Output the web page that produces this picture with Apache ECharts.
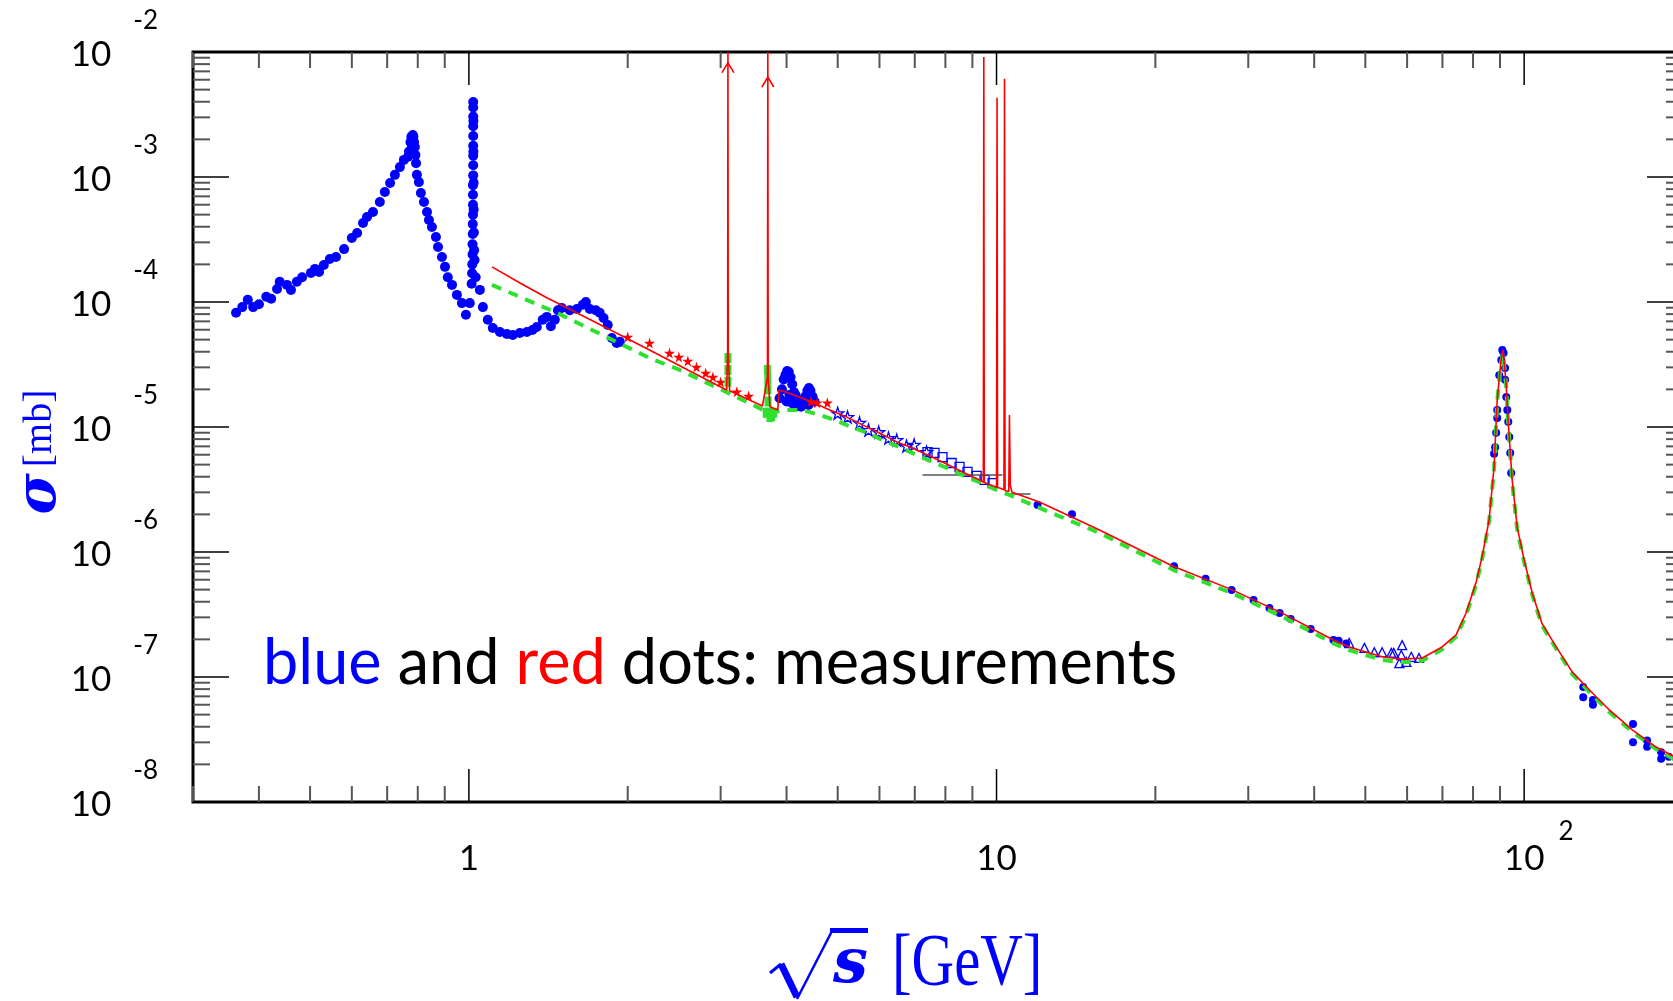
<!DOCTYPE html>
<html>
<head>
<meta charset="utf-8">
<script src="https://cdn.jsdelivr.net/npm/echarts@6/dist/echarts.min.js"></script>
<style>
html, body { margin: 0; padding: 0; background: #fff; }
#main { width: 1673px; height: 1001px; }
</style>
</head>
<body>
<div id="main"></div>
<script>
// sqrt(s) in GeV, sigma in mb

// low energy blue measurements (rho / omega / phi region and above)
const blueDotsLow = [
  [0.362, 8.2e-5], [0.372, 9.1e-5], [0.381, 1.04e-4], [0.390, 9.1e-5], [0.400, 9.6e-5],
  [0.413, 1.10e-4], [0.422, 1.06e-4], [0.433, 1.27e-4], [0.438, 1.45e-4], [0.452, 1.37e-4],
  [0.460, 1.25e-4], [0.472, 1.45e-4], [0.483, 1.58e-4], [0.502, 1.71e-4], [0.511, 1.84e-4],
  [0.520, 1.74e-4], [0.531, 1.98e-4], [0.545, 2.21e-4], [0.560, 2.29e-4], [0.580, 2.65e-4],
  [0.600, 3.25e-4], [0.614, 3.56e-4], [0.630, 4.29e-4], [0.641, 4.79e-4], [0.658, 5.25e-4],
  [0.678, 6.31e-4], [0.693, 7.59e-4], [0.709, 8.95e-4], [0.724, 1.04e-3], [0.740, 1.20e-3],
  [0.753, 1.37e-3], [0.767, 1.45e-3], [0.770, 1.6e-3], [0.775, 1.9e-3], [0.778, 2.1e-3],
  [0.780, 1.74e-3], [0.783, 2.17e-3], [0.785, 2.1e-3], [0.787, 1.9e-3], [0.790, 1.74e-3],
  [0.792, 1.5e-3], [0.794, 1.29e-3], [0.797, 1.04e-3], [0.804, 9.1e-4], [0.811, 7.45e-4],
  [0.822, 6.31e-4], [0.833, 5.25e-4], [0.840, 4.53e-4], [0.851, 3.98e-4], [0.866, 3.31e-4],
  [0.874, 2.75e-4], [0.889, 2.29e-4], [0.901, 1.91e-4], [0.912, 1.58e-4], [0.929, 1.37e-4],
  [0.949, 1.14e-4], [0.970, 9.8e-5], [0.987, 7.9e-5], [1.004, 9.8e-5], [1.012, 1.4e-4],
  [1.014, 1.7e-4], [1.015, 2.0e-4], [1.016, 2.4e-4], [1.016, 2.9e-4], [1.017, 3.5e-4],
  [1.017, 4.2e-4], [1.018, 5.0e-4], [1.018, 6.0e-4], [1.018, 7.2e-4], [1.018, 8.6e-4],
  [1.019, 1.03e-3], [1.019, 1.24e-3], [1.019, 1.48e-3], [1.019, 1.78e-3], [1.019, 2.13e-3],
  [1.019, 2.55e-3], [1.019, 3.05e-3], [1.019, 3.6e-3], [1.019, 3.98e-3], [1.020, 2.8e-3],
  [1.020, 1.6e-3], [1.021, 9.0e-4], [1.021, 5.5e-4], [1.022, 3.6e-4], [1.023, 2.6e-4],
  [1.025, 2.17e-4], [1.030, 1.58e-4], [1.049, 1.25e-4], [1.063, 9.1e-5], [1.086, 7.2e-5],
  [1.11, 6.2e-5], [1.145, 5.75e-5], [1.18, 5.55e-5], [1.211, 5.45e-5], [1.249, 5.65e-5],
  [1.288, 5.75e-5], [1.32, 5.97e-5], [1.345, 6.3e-5], [1.38, 7.2e-5], [1.405, 7.6e-5],
  [1.43, 6.4e-5], [1.455, 7.2e-5], [1.475, 8.6e-5], [1.50, 8.95e-5], [1.553, 8.6e-5],
  [1.602, 8.8e-5], [1.644, 9.5e-5], [1.666, 1.0e-4], [1.695, 8.8e-5], [1.74, 8.6e-5],
  [1.77, 8.2e-5], [1.80, 7.45e-5], [1.833, 6.55e-5], [1.866, 5.15e-5], [1.906, 4.7e-5],
  [1.932, 4.8e-5]
];

// charmonium region
const blueDotsCharm = [
  [3.88, 1.7e-5], [3.92, 2.0e-5], [3.95, 2.4e-5], [3.98, 2.6e-5], [4.01, 2.8e-5],
  [4.04, 2.75e-5], [4.07, 2.5e-5], [4.10, 2.2e-5], [4.13, 1.9e-5], [4.16, 1.8e-5],
  [4.20, 1.65e-5], [4.23, 1.5e-5], [4.26, 1.45e-5], [4.30, 1.55e-5], [4.34, 1.75e-5],
  [4.38, 1.95e-5], [4.41, 2.05e-5], [4.44, 1.95e-5], [4.48, 1.75e-5], [4.52, 1.6e-5],
  [4.00, 1.6e-5], [4.05, 1.8e-5], [4.10, 1.55e-5], [4.15, 1.45e-5], [4.40, 1.5e-5]
];

// higher energies, Z peak and beyond
const blueDotsHigh = [
  [11.96, 2.38e-6], [13.9, 2.0e-6], [21.7, 7.7e-7], [24.9, 6.1e-7], [27.9, 4.97e-7],
  [30.7, 4.13e-7], [32.9, 3.56e-7], [34.4, 3.25e-7], [36.1, 2.91e-7], [39.4, 2.42e-7],
  [43.5, 1.98e-7], [44.5, 1.95e-7], [46.0, 1.85e-7],
  [87.7, 6.1e-6], [88.1, 6.9e-6], [88.5, 9.0e-6], [88.9, 1.18e-5], [88.9, 1.37e-5],
  [89.7, 2.6e-5], [90.5, 3.44e-5], [90.9, 4.13e-5], [91.4, 3.9e-5], [92.0, 2.96e-5],
  [92.0, 2.39e-5], [92.5, 1.74e-5], [92.9, 1.37e-5], [93.3, 1.1e-5], [93.7, 8.3e-6],
  [94.1, 6.2e-6], [94.5, 4.29e-6],
  [129.4, 8.3e-8], [129.4, 6.9e-8], [135, 6.55e-8], [135, 6.0e-8], [160.8, 4.2e-8],
  [160.8, 3.0e-8], [171, 3.1e-8], [171, 2.77e-8], [181.8, 2.5e-8], [181.8, 2.22e-8],
  [188, 2.3e-8]
];

const blueStars = [
  [5.0, 1.29e-5], [5.22, 1.2e-5], [5.5, 1.08e-5], [5.72, 9.46e-6], [5.98, 9.1e-6],
  [6.24, 8.17e-6], [6.47, 7.86e-6], [6.75, 7.05e-6], [6.98, 7.2e-6], [7.37, 6.3e-6]
];

const blueSquares = [
  [7.40, 6.3e-6], [7.63, 6.2e-6], [7.9, 5.75e-6], [8.22, 5.15e-6], [8.51, 4.79e-6],
  [8.81, 4.37e-6], [9.17, 4.06e-6], [9.49, 3.77e-6], [9.83, 3.56e-6]
];

const blueTriangles = [
  [46.6, 1.87e-7], [49.8, 1.71e-7], [52.0, 1.58e-7], [53.8, 1.58e-7], [56.0, 1.56e-7],
  [56.6, 1.56e-7], [58.5, 1.50e-7], [58.7, 1.80e-7], [58.0, 1.29e-7], [59.8, 1.32e-7],
  [61.1, 1.45e-7], [63.2, 1.42e-7]
];

const redStars = [
  [2.0, 5.25e-5], [2.2, 4.7e-5], [2.4, 3.9e-5], [2.5, 3.63e-5], [2.6, 3.37e-5],
  [2.7, 3.02e-5], [2.81, 2.7e-5], [2.9, 2.51e-5], [3.0, 2.29e-5], [3.22, 1.91e-5],
  [3.39, 1.77e-5], [4.45, 1.6e-5], [4.57, 1.56e-5], [4.78, 1.56e-5]
];

const greenMarks = [
  [3.097, 3.56e-5], [3.097, 2.86e-5], [3.097, 2.3e-5], [3.68, 2.86e-5], [3.686, 2.4e-5],
  [3.686, 2.0e-5], [3.69, 1.6e-5], [3.70, 1.3e-5], [3.66, 1.3e-5], [3.72, 1.2e-5],
  [3.75, 1.22e-5], [3.78, 1.3e-5]
];

// red theory curve with narrow resonances
const redCurve = [
  [1.106, 1.91e-4], [1.25, 1.42e-4], [1.405, 1.08e-4], [1.7, 7.2e-5], [2.2, 4.13e-5],
  [2.6, 2.86e-5], [3.08, 1.98e-5], [3.093, 4e-5], [3.097, 1e-2], [3.101, 4e-5],
  [3.12, 1.95e-5], [3.60, 1.47e-5], [3.68, 2.5e-5], [3.686, 1e-2], [3.692, 2.5e-5],
  [3.72, 1.45e-5], [3.85, 1.37e-5], [3.87, 1.98e-5], [4.0, 1.9e-5], [4.48, 1.58e-5],
  [4.83, 1.37e-5], [5.2, 1.2e-5], [5.57, 1.04e-5], [6.0, 8.95e-6], [6.47, 7.6e-6],
  [6.93, 6.8e-6], [7.47, 5.86e-6], [8.04, 5.06e-6], [8.62, 4.37e-6], [9.29, 3.77e-6],
  [9.44, 3.6e-6], [9.46, 9.1e-3], [9.48, 3.6e-6], [10.0, 3.3e-6], [10.023, 4.3e-3],
  [10.045, 3.3e-6], [10.33, 3.15e-6], [10.355, 6.1e-3], [10.38, 3.1e-6], [10.55, 3.05e-6],
  [10.58, 1.25e-5], [10.62, 3.4e-6], [10.7, 3.0e-6], [12.06, 2.51e-6], [15.67, 1.5e-6],
  [21.6, 7.7e-7], [27.9, 5.0e-7], [35, 3.2e-7], [43.5, 1.98e-7], [46.6, 1.74e-7],
  [53.8, 1.45e-7], [58.7, 1.39e-7], [64.1, 1.42e-7], [69.9, 1.74e-7], [74.3, 2.17e-7],
  [77.6, 3.25e-7], [81.1, 5.75e-7], [83.2, 9.1e-7], [85.8, 1.8e-6], [87.7, 4.79e-6],
  [88.9, 1.64e-5], [90.4, 3.44e-5], [91.2, 4.13e-5], [92.4, 2.25e-5], [93.3, 1.08e-5],
  [94.9, 3.77e-6], [97.0, 1.58e-6], [100, 8.6e-7], [103.6, 4.7e-7], [108, 2.7e-7],
  [115, 1.74e-7], [123.3, 1.1e-7], [132.8, 7.9e-8], [145, 5.45e-8], [160.3, 3.77e-8],
  [177.8, 2.75e-8], [189.8, 2.38e-8], [200, 2.15e-8]
];

// green dashed curve
const greenCurve = [
  [1.106, 1.37e-4], [1.468, 8.2e-5], [2.2, 3.56e-5], [2.51, 2.86e-5], [3.08, 1.9e-5],
  [3.72, 1.29e-5], [3.97, 1.37e-5], [4.27, 1.37e-5], [4.62, 1.25e-5], [4.93, 1.14e-5],
  [5.31, 1.0e-5], [5.70, 8.95e-6], [6.14, 7.7e-6], [6.55, 6.9e-6], [7.06, 5.97e-6],
  [7.57, 5.25e-6], [8.15, 4.6e-6], [8.77, 3.98e-6], [9.37, 3.56e-6], [10.0, 3.13e-6],
  [10.58, 2.86e-6], [11.45, 2.47e-6], [15.67, 1.42e-6], [21.6, 7.2e-7], [27.9, 4.7e-7],
  [35, 3.0e-7], [43.5, 1.86e-7], [46.6, 1.64e-7], [53.8, 1.37e-7], [58.7, 1.31e-7],
  [64.1, 1.35e-7], [69.9, 1.66e-7], [74.3, 2.1e-7], [77.6, 3.1e-7], [81.1, 5.5e-7],
  [83.2, 8.7e-7], [85.8, 1.75e-6], [87.7, 4.6e-6], [88.9, 1.6e-5], [90.4, 3.3e-5],
  [91.2, 3.9e-5], [92.4, 2.2e-5], [93.3, 1.05e-5], [94.9, 3.6e-6], [97.0, 1.52e-6],
  [100, 8.3e-7], [103.6, 4.55e-7], [108, 2.6e-7], [115, 1.68e-7], [123.3, 1.06e-7],
  [132.8, 7.6e-8], [145, 5.25e-8], [160.3, 3.65e-8], [177.8, 2.65e-8], [200, 2.0e-8]
];

// arrow heads on the J/psi and psi(2S) spikes
const spikeArrows = [[3.097, 8.2e-3], [3.686, 6.3e-3]];

// horizontal error bars
const errBarA = [[7.24, 4.13e-6], [10.26, 4.13e-6]];
const errBarB = [[10.5, 2.91e-6], [11.6, 2.91e-6]];

// axis ticks
const xTickValues = [0.3, 0.4, 0.5, 0.6, 0.7, 0.8, 0.9, 1, 2, 3, 4, 5, 6, 7, 8, 9,
  10, 20, 30, 40, 50, 60, 70, 80, 90, 100, 200];
const xMajorTicks = [1, 10, 100];
const yDecades = [-8, -7, -6, -5, -4, -3];
const yMinorSteps = [2, 3, 4, 5, 6, 7, 8, 9];

let xTickData = xTickValues.map(v => [v, 1e-5, xMajorTicks.includes(v) ? 1 : 0]);
let yTickData = [[1, 1e-2, 1]];
yDecades.forEach(e => {
  yTickData.push([1, Math.pow(10, e), 1]);
  yMinorSteps.forEach(k => yTickData.push([1, k * Math.pow(10, e), 0]));
});

const BLUE = '#0000ff';
const RED = '#ff0000';
const GREEN = '#2fe02f';
const STAR = 'path://M50,0 L61,35 L98,35 L68,57 L79,91 L50,70 L21,91 L32,57 L2,35 L39,35 Z';

let myChart = echarts.init(document.getElementById('main'));

function tickStyle(major) {
    return { stroke: major ? '#000' : '#555', lineWidth: major ? 1.5 : 2 };
}

function renderXTick(params, api) {
    let cs = params.coordSys;
    let px = api.coord([api.value(0), 1e-5])[0];
    let major = api.value(2) === 1;
    let len = major ? 33 : 16;
    let bottom = cs.y + cs.height;
    return {
        type: 'group',
        children: [
            { type: 'line', shape: { x1: px, y1: bottom, x2: px, y2: bottom - len }, style: tickStyle(major) },
            { type: 'line', shape: { x1: px, y1: cs.y, x2: px, y2: cs.y + len }, style: tickStyle(major) }
        ]
    };
}

function renderYTick(params, api) {
    let cs = params.coordSys;
    let py = api.coord([1, api.value(1)])[1];
    let major = api.value(2) === 1;
    let len = major ? 36 : 17;
    let right = cs.x + cs.width;
    return {
        type: 'group',
        children: [
            { type: 'line', shape: { x1: cs.x, y1: py, x2: cs.x + len, y2: py }, style: tickStyle(major) },
            { type: 'line', shape: { x1: right, y1: py, x2: right - len, y2: py }, style: tickStyle(major) }
        ]
    };
}

function decade(v) {
    let l = Math.log10(v);
    let e = Math.round(l);
    return Math.abs(l - e) < 1e-6 ? e : null;
}

let option = {
    animation: false,
    backgroundColor: '#fff',
    grid: {
        left: 193, top: 52, right: -10, bottom: 199,
        containLabel: false,
        outerBoundsMode: 'none',
        show: true,
        borderColor: '#000',
        borderWidth: 3
    },
    xAxis: {
        type: 'log',
        logBase: 10,
        min: 0.3,
        max: 200,
        axisLine: { show: false },
        axisTick: { show: false },
        splitLine: { show: false },
        minorTick: { show: false },
        axisLabel: {
            margin: 17,
            formatter: function (v) {
                let e = decade(v);
                if (e === null) return '';
                if (e === 0) return '{b|1}';
                if (e === 1) return '{b|10}';
                return '{p|10}{e|' + e + '}';
            },
            rich: {
                b: { fontSize: 35, fontFamily: 'Lato', color: '#000', lineHeight: 80 },
                p: { fontSize: 35, fontFamily: 'Lato', color: '#000', lineHeight: 80, padding: [0, 0, 0, 29] },
                e: { fontSize: 26, fontFamily: 'Lato', color: '#000', lineHeight: 26, padding: [0, 0, 54, 14] }
            }
        }
    },
    yAxis: {
        type: 'log',
        logBase: 10,
        min: 1e-8,
        max: 1e-2,
        axisLine: { show: false },
        axisTick: { show: false },
        splitLine: { show: false },
        axisLabel: {
            margin: 35,
            formatter: function (v) {
                let e = decade(v);
                if (e === null) return '';
                return '{b|10}{e|' + e + '}';
            },
            rich: {
                b: { fontSize: 35, fontFamily: 'Lato', color: '#000', lineHeight: 35, padding: [6, 0, 0, 0] },
                e: { fontSize: 26, fontFamily: 'Lato', color: '#000', lineHeight: 26, padding: [3, 0, 65, 22] }
            }
        }
    },
    graphic: [
        {
            type: 'text', x: 263, y: 664,
            style: {
                text: '{b|blue} {k|and} {r|red} {k|dots: measurements}',
                font: '63px Lato', fill: '#000',
                textAlign: 'left', textVerticalAlign: 'middle',
                rich: {
                    b: { fontSize: 63, fontFamily: 'Lato', fill: BLUE },
                    k: { fontSize: 63, fontFamily: 'Lato', fill: '#000' },
                    r: { fontSize: 63, fontFamily: 'Lato', fill: RED }
                }
            }
        },
        {
            type: 'text', x: 40, y: 452, rotation: Math.PI / 2,
            style: {
                text: '{s|σ}{m|[mb]}',
                textAlign: 'center', textVerticalAlign: 'middle',
                rich: {
                    s: { fontSize: 56, fontFamily: 'DejaVu Serif', fontWeight: 'bold', fontStyle: 'italic', fill: BLUE, padding: [0, 6, 0, 0] },
                    m: { fontSize: 40, fontFamily: 'Liberation Serif', fill: BLUE }
                }
            }
        },
        // radical sign of the x-axis title
        {
            type: 'polyline', shape: { points: [[770, 973], [781, 964]] },
            style: { stroke: BLUE, lineWidth: 3, fill: null }
        },
        {
            type: 'polyline', shape: { points: [[781, 964], [797, 997]] },
            style: { stroke: BLUE, lineWidth: 7, fill: null }
        },
        {
            type: 'polyline', shape: { points: [[797, 999], [832, 931]] },
            style: { stroke: BLUE, lineWidth: 2.5, fill: null }
        },
        {
            type: 'rect', shape: { x: 830, y: 928, width: 38, height: 5 },
            style: { fill: BLUE }
        },
        {
            type: 'text', x: 833, y: 966,
            style: { text: 's', font: 'italic bold 62px "DejaVu Serif"', fill: BLUE, textAlign: 'left', textVerticalAlign: 'middle' }
        },
        {
            type: 'text', x: 892, y: 966, scaleX: 0.95, scaleY: 1.18,
            style: { text: '[GeV]', font: '62px "Liberation Serif"', fill: BLUE, textAlign: 'left', textVerticalAlign: 'middle' }
        }
    ],
    series: [
        {
            name: 'blue dots low', type: 'scatter', data: blueDotsLow,
            symbol: 'circle', symbolSize: 10, itemStyle: { color: BLUE, opacity: 1 }
        },
        {
            name: 'blue dots charm', type: 'scatter', data: blueDotsCharm,
            symbol: 'circle', symbolSize: 10, itemStyle: { color: BLUE, opacity: 1 }
        },
        {
            name: 'blue dots high', type: 'scatter', data: blueDotsHigh,
            symbol: 'circle', symbolSize: 8, itemStyle: { color: BLUE, opacity: 1 }
        },
        {
            name: 'blue stars', type: 'scatter', data: blueStars,
            symbol: STAR, symbolSize: 12,
            itemStyle: { color: 'rgba(0,0,0,0)', borderColor: BLUE, borderWidth: 1.3, opacity: 1 }
        },
        {
            name: 'blue squares', type: 'scatter', data: blueSquares,
            symbol: 'rect', symbolSize: 9,
            itemStyle: { color: 'rgba(0,0,0,0)', borderColor: BLUE, borderWidth: 1.3, opacity: 1 }
        },
        {
            name: 'blue triangles', type: 'scatter', data: blueTriangles,
            symbol: 'triangle', symbolSize: 9,
            itemStyle: { color: 'rgba(0,0,0,0)', borderColor: BLUE, borderWidth: 1.3, opacity: 1 }
        },
        {
            name: 'red stars', type: 'scatter', data: redStars,
            symbol: STAR, symbolSize: 11, itemStyle: { color: RED, opacity: 1 }
        },
        {
            name: 'green marks', type: 'scatter', data: greenMarks,
            symbol: 'rect', symbolSize: [7, 10], itemStyle: { color: GREEN, opacity: 1 }
        },
        {
            name: 'err A', type: 'line', data: errBarA, showSymbol: false, symbol: 'none',
            lineStyle: { color: '#555', width: 1.5 }
        },
        {
            name: 'err B', type: 'line', data: errBarB, showSymbol: false, symbol: 'none',
            lineStyle: { color: '#555', width: 1.5 }
        },
        {
            name: 'green curve', type: 'line', data: greenCurve, showSymbol: false, symbol: 'none',
            lineStyle: { color: GREEN, width: 4, type: [10, 8] }
        },
        {
            name: 'red curve', type: 'line', data: redCurve, showSymbol: false, symbol: 'none',
            lineStyle: { color: RED, width: 1.6 }
        },
        {
            name: 'arrows', type: 'scatter', data: spikeArrows,
            symbol: 'path://M0,12 L7,0 L14,12', symbolSize: [12, 10], symbolOffset: [0, '50%'],
            itemStyle: { color: 'rgba(0,0,0,0)', borderColor: RED, borderWidth: 1.5, opacity: 1 }
        },
        {
            name: 'x ticks', type: 'custom', data: xTickData, renderItem: renderXTick,
            encode: { x: 0, y: 1 }, silent: true, clip: false, z: 5
        },
        {
            name: 'y ticks', type: 'custom', data: yTickData, renderItem: renderYTick,
            encode: { x: 0, y: 1 }, silent: true, clip: false, z: 5
        }
    ]
};

myChart.setOption(option);
</script>
</body>
</html>
